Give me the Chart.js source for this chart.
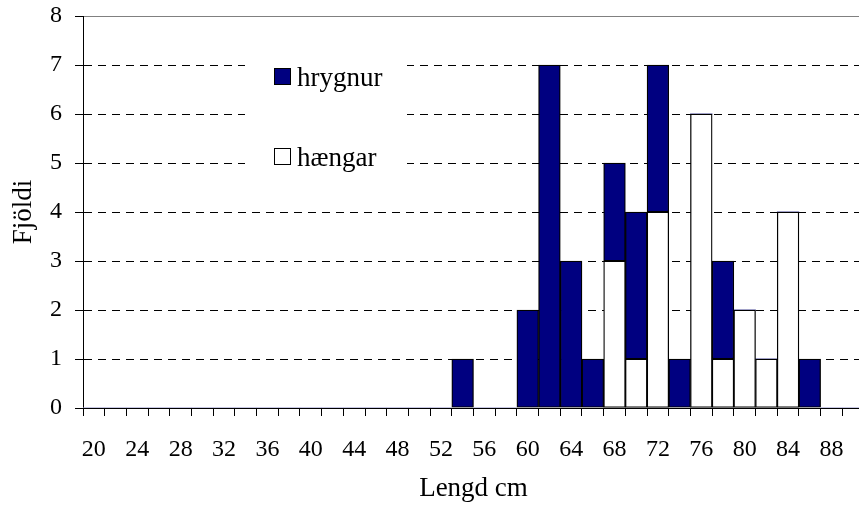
<!DOCTYPE html>
<html>
<head>
<meta charset="utf-8">
<script src="https://cdn.jsdelivr.net/npm/chart.js@4/dist/chart.umd.min.js"></script>
<style>
  html, body { margin: 0; padding: 0; background: #fff; overflow: hidden; }
  #wrap { width: 859px; height: 514px; overflow: hidden; }
</style>
</head>
<body>
<div id="wrap"><canvas id="chart" width="866" height="514"></canvas></div>
<script>
// length classes (cm), 2 cm wide
const lengths = [20, 22, 24, 26, 28, 30, 32, 34, 36, 38, 40, 42, 44, 46, 48, 50, 52, 54,
                 56, 58, 60, 62, 64, 66, 68, 70, 72, 74, 76, 78, 80, 82, 84, 86, 88, 90];
const hrygnur = [0, 0, 0, 0, 0, 0, 0, 0, 0, 0, 0, 0, 0, 0, 0, 0, 0, 1,
                 0, 0, 2, 7, 3, 1, 2, 3, 3, 1, 0, 2, 0, 0, 0, 1, 0, 0];
const haengar = [0, 0, 0, 0, 0, 0, 0, 0, 0, 0, 0, 0, 0, 0, 0, 0, 0, 0,
                 0, 0, 0, 0, 0, 0, 3, 1, 4, 0, 6, 1, 2, 1, 4, 0, 0, 0];
const shownLabels = [20, 24, 28, 32, 36, 40, 44, 48, 52, 56, 60, 64, 68, 72, 76, 80, 84, 88];

const serif = '"Liberation Serif", "Times New Roman", serif';

// legend drawn inside the plot, on a white box
const legendInside = {
    id: 'legendInside',
    afterDraw(chart) {
        const ctx = chart.ctx;
        const items = [chart.data.datasets[1], chart.data.datasets[0]];
        ctx.save();
        ctx.fillStyle = '#fff';
        ctx.fillRect(245, 40, 162, 150);
        items.forEach((ds, i) => {
            const y = 77 + i * 80;
            ctx.fillStyle = ds.backgroundColor;
            ctx.fillRect(274.5, y - 8.5, 16, 16);
            ctx.strokeStyle = '#000';
            ctx.lineWidth = 1;
            ctx.strokeRect(274.5, y - 8.5, 16, 16);
            ctx.fillStyle = '#000';
            ctx.font = '27px ' + serif;
            ctx.textBaseline = 'alphabetic';
            ctx.fillText(ds.label, 297, y + 9);
        });
        ctx.restore();
    }
};

// no outline on empty classes
const edge = c => (c.raw ? 1.3 : 0);

const ctx = document.getElementById('chart').getContext('2d');

new Chart(ctx, {
    type: 'bar',
    data: {
        labels: lengths,
        datasets: [
            { label: 'hængar', data: haengar, backgroundColor: '#ffffff', borderColor: '#000', borderWidth: edge, borderSkipped: false },
            { label: 'hrygnur', data: hrygnur, backgroundColor: '#000080', borderColor: '#000', borderWidth: edge, borderSkipped: false }
        ]
    },
    options: {
        responsive: false,
        animation: false,
        events: [],
        barPercentage: 1,
        categoryPercentage: 1,
        layout: { padding: { top: 16, right: 2, left: 0, bottom: 0 } },
        plugins: {
            legend: { display: false },
            tooltip: { enabled: false }
        },
        scales: {
            x: {
                stacked: true,
                grid: { drawOnChartArea: false, color: '#000', tickLength: 8, offset: true },
                border: { color: '#000', width: 1 },
                ticks: {
                    autoSkip: false, maxRotation: 0, minRotation: 0, padding: 19, color: '#000',
                    font: { family: serif, size: 24 },
                    callback: function (v, i) {
                        const l = lengths[i];
                        return shownLabels.includes(l) ? String(l) : '';
                    }
                },
                title: { display: true, text: 'Lengd cm', color: '#000', font: { family: serif, size: 27 }, padding: { top: 0, bottom: 9 } },
                afterFit(scale) {
                    scale.height = 106;
                    scale.paddingLeft = 0;
                    scale.paddingRight = 0;
                }
            },
            y: {
                stacked: true,
                min: 0,
                max: 8,
                grid: {
                    color: c => c.tick.value === 8 ? '#808080' : (c.tick.value === 0 ? 'rgba(0,0,0,0)' : '#000'),
                    tickColor: '#000',
                    tickLength: 8
                },
                border: { color: '#000', width: 1, dash: c => c.tick && c.tick.value === 8 ? [] : [8, 6] },
                ticks: { stepSize: 1, padding: 13, color: '#000', font: { family: serif, size: 24 } },
                title: { display: true, text: 'Fjöldi', color: '#000', font: { family: serif, size: 27 }, padding: { top: 8, bottom: 0 } },
                afterFit(scale) {
                    scale.width = 83;
                    scale.paddingTop = 0;
                    scale.paddingBottom = 0;
                }
            }
        }
    },
    plugins: [legendInside]
});
</script>
</body>
</html>
